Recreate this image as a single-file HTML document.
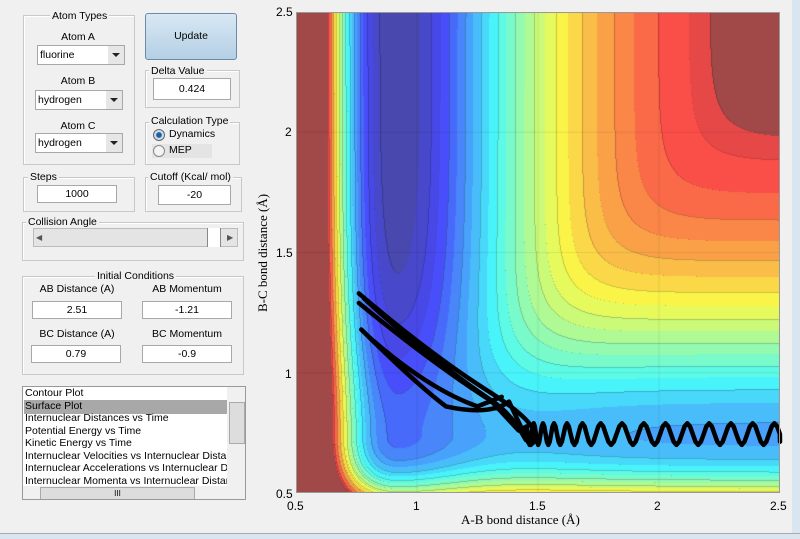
<!DOCTYPE html>
<html><head><meta charset="utf-8"><style>
body{margin:0;width:800px;height:539px;background:#f0f0f0;position:relative;overflow:hidden;font-family:"Liberation Sans",sans-serif;font-size:10.5px;color:#000}
.a{position:absolute}
.box{position:absolute;border:1px solid #c8c8c8;box-shadow:1px 1px 0 #fff inset}
.t{position:absolute;background:#f0f0f0;padding:0 2px;white-space:nowrap}
.inp{position:absolute;background:#fff;border:1px solid #a8a8a8;text-align:center;line-height:17px;box-sizing:border-box}
.sel{position:absolute;background:#fff;border:1px solid #a8a8a8;box-sizing:border-box;padding-left:2px;line-height:18px}
.sel:after{content:"";position:absolute;right:0;top:0;width:16px;height:100%;background:#e6e6e6}
.sel i{position:absolute;right:4px;top:7px;border-left:4px solid transparent;border-right:4px solid transparent;border-top:4px solid #222;z-index:2}
.lbl{position:absolute;text-align:center;white-space:nowrap}
</style></head><body>
<div class="a" style="right:0;top:0;width:8px;height:539px;background:#d9e6f2"></div>
<div class="a" style="left:0;bottom:0;width:800px;height:5px;background:#d9e6f2;border-top:1px solid #aaa"></div>

<div class="box" style="left:23px;top:15px;width:110px;height:148px"></div>
<div class="t" style="left:50px;top:10px">Atom Types</div>
<div class="lbl" style="left:23px;width:110px;top:31px">Atom A</div>
<div class="sel" style="left:37px;top:45px;width:88px;height:20px">fluorine<i></i></div>
<div class="lbl" style="left:23px;width:110px;top:75px">Atom B</div>
<div class="sel" style="left:35px;top:90px;width:88px;height:20px">hydrogen<i></i></div>
<div class="lbl" style="left:23px;width:110px;top:120px">Atom C</div>
<div class="sel" style="left:35px;top:133px;width:88px;height:20px">hydrogen<i></i></div>

<div class="a" style="left:145px;top:13px;width:90px;height:45px;border:1px solid #6e8aa8;border-radius:3px;background:linear-gradient(#d8e8f4,#b4cfe4);text-align:center;line-height:45px">Update</div>

<div class="box" style="left:145px;top:70px;width:93px;height:36px"></div>
<div class="t" style="left:149px;top:65px">Delta Value</div>
<div class="inp" style="left:153px;top:78px;width:78px;height:22px;line-height:20px">0.424</div>

<div class="box" style="left:145px;top:122px;width:93px;height:41px"></div>
<div class="t" style="left:149px;top:115px">Calculation Type</div>
<div class="a" style="left:153px;top:129px;width:10px;height:10px;border-radius:50%;border:1px solid #666;background:radial-gradient(#1d5fa0 35%,#cde 45%)"></div>
<div class="a" style="left:169px;top:128px">Dynamics</div>
<div class="a" style="left:152px;top:144px;width:60px;height:14px;background:#e4e4e4"></div>
<div class="a" style="left:153px;top:145px;width:10px;height:10px;border-radius:50%;border:1px solid #888;background:#f4f4f4"></div>
<div class="a" style="left:169px;top:144px">MEP</div>

<div class="box" style="left:23px;top:177px;width:110px;height:33px"></div>
<div class="t" style="left:28px;top:171px">Steps</div>
<div class="inp" style="left:37px;top:185px;width:80px;height:18px">1000</div>
<div class="box" style="left:145px;top:177px;width:95px;height:33px"></div>
<div class="t" style="left:148px;top:171px">Cutoff (Kcal/ mol)</div>
<div class="inp" style="left:158px;top:185px;width:73px;height:20px;line-height:18px">-20</div>

<div class="box" style="left:22px;top:222px;width:220px;height:37px"></div>
<div class="t" style="left:26px;top:216px">Collision Angle</div>
<div class="a" style="left:33px;top:228px;width:205px;height:19px;background:#e4e4e4;border:1px solid #bbb;box-sizing:border-box"></div>
<div class="a" style="left:36px;top:233px;font-size:8px;color:#555">◀</div>
<div class="a" style="left:207px;top:228px;width:14px;height:19px;background:#fff;border-left:1px solid #888;border-right:1px solid #888;box-sizing:border-box"></div>
<div class="a" style="left:227px;top:233px;font-size:8px;color:#555">▶</div>

<div class="box" style="left:22px;top:276px;width:220px;height:97px"></div>
<div class="t" style="left:95px;top:270px">Initial Conditions</div>
<div class="lbl" style="left:32px;width:90px;top:283px">AB Distance (A)</div>
<div class="lbl" style="left:142px;width:90px;top:283px">AB Momentum</div>
<div class="inp" style="left:32px;top:301px;width:90px;height:18px">2.51</div>
<div class="inp" style="left:142px;top:301px;width:90px;height:18px">-1.21</div>
<div class="lbl" style="left:32px;width:90px;top:328px">BC Distance (A)</div>
<div class="lbl" style="left:142px;width:90px;top:328px">BC Momentum</div>
<div class="inp" style="left:31px;top:345px;width:90px;height:18px">0.79</div>
<div class="inp" style="left:142px;top:345px;width:90px;height:18px">-0.9</div>

<div class="a" style="left:22px;top:386px;width:224px;height:114px;background:#fff;border:1px solid #999;box-sizing:border-box;overflow:hidden">
<div class="a" style="left:1px;top:13px;width:203px;height:14px;background:#a8a8a8"></div>
<div class="a" style="left:2px;top:0;line-height:12.5px;white-space:nowrap">Contour Plot<br>Surface Plot<br>Internuclear Distances vs Time<br>Potential Energy vs Time<br>Kinetic Energy vs Time<br>Internuclear Velocities vs Internuclear Distance<br>Internuclear Accelerations vs Internuclear Dista<br>Internuclear Momenta vs Internuclear Distance</div>
<div class="a" style="left:204px;top:0;width:19px;height:99px;background:#f0f0f0"></div>
<div class="a" style="left:206px;top:15px;width:14px;height:40px;background:#ddd;border:1px solid #aaa"></div>
<div class="a" style="left:0;top:99px;width:222px;height:14px;background:#f0f0f0"></div>
<div class="a" style="left:17px;top:100px;width:153px;height:11px;background:#ddd;border:1px solid #aaa;text-align:center;font-size:8px;line-height:11px">III</div>
</div>

<canvas id="c" width="484" height="481" class="a" style="left:296px;top:12px"></canvas>
<svg class="a" style="left:0;top:0" width="800" height="539" id="s"></svg>
<div class="a" style="left:296px;top:12px;width:484px;height:481px;border:1px solid #999;box-sizing:border-box;pointer-events:none"></div>
<div class="a" style="left:276px;top:5px;font-size:12px">2.5</div>
<div class="a" style="left:285px;top:125px;font-size:12px">2</div>
<div class="a" style="left:276px;top:246px;font-size:12px">1.5</div>
<div class="a" style="left:285px;top:367px;font-size:12px">1</div>
<div class="a" style="left:276px;top:487px;font-size:12px">0.5</div>
<div class="a" style="left:287px;top:499px;font-size:12px">0.5</div>
<div class="a" style="left:413px;top:499px;font-size:12px">1</div>
<div class="a" style="left:529px;top:499px;font-size:12px">1.5</div>
<div class="a" style="left:654px;top:499px;font-size:12px">2</div>
<div class="a" style="left:770px;top:499px;font-size:12px">2.5</div>
<div class="a" style="left:461px;top:512px;font-family:'Liberation Serif',serif;font-size:13px">A-B bond distance (Å)</div>
<div class="a" style="left:203px;top:245px;width:120px;transform:rotate(-90deg);transform-origin:center;font-family:'Liberation Serif',serif;font-size:13px;white-space:nowrap;text-align:center">B-C bond distance (Å)</div>

<script>
var c=document.getElementById('c'),g=c.getContext('2d'),W=484,H=481;
function jet(t){function f(v){return Math.max(0,Math.min(1,v))}
return [f(1.5-Math.abs(4*t-3)),f(1.5-Math.abs(4*t-2)),f(1.5-Math.abs(4*t-1))]}
function morse(r,ar,aa){if(r<0){var e=Math.exp(-ar*r);return [1,(1-e)*(1-e)];}var e=Math.exp(-aa*r);return [1-(1-e)*(1-e),0];}
var D2=0.74;
function V(x,y){var m1=morse(x-0.92,2.3,2.35),m2=morse(y-0.74,2.3,2.2);
var a=m1[0],b=D2*m2[0];var p=Math.pow(Math.pow(a,4)+Math.pow(b,4),0.25);
return -p+m1[1]+0.7*m2[1]+0.45*Math.pow(a*b,2);}
var N=26,img=g.createImageData(W,H),L=[];
for(var j=0;j<H;j++){L[j]=[];for(var i=0;i<W;i++){var x=0.5+i/242,y=0.5+(H-1-j)/240.5;var t=1+V(x,y);if(t<0)t=0;var q=Math.min(N,Math.floor(t*N));if(t>0.905)q=N;L[j][i]=q;}}
for(var j=0;j<H;j++)for(var i=0;i<W;i++){var q=L[j][i],t=q>=N?1:(q+0.5)/N,col=jet(t);
var edge=(i>0&&L[j][i-1]!=q)||(j>0&&L[j-1][i]!=q);var a=0.7;
var k=(j*W+i)*4;for(var m=0;m<3;m++){var v=col[m]*255*a+240*(1-a);if(edge&&q%2==0)v*=0.8;img.data[k+m]=v;}img.data[k+3]=255;}
g.putImageData(img,0,0);
g.strokeStyle='rgba(0,0,0,0.08)';g.lineWidth=1;
[0.5,1,1.5,2,2.5].forEach(function(v){var X=(v-0.5)*242,Y=H-(v-0.5)*240.5;g.beginPath();g.moveTo(X,0);g.lineTo(X,H);g.stroke();g.beginPath();g.moveTo(0,Y);g.lineTo(W,Y);g.stroke();});
function px(x){return 296+(x-0.5)*242}function py(y){return 493-(y-0.5)*240.5}
var d='';
function P(a,b){return px(a).toFixed(1)+','+py(b).toFixed(1)}
d+='M'+P(0.76,1.33)+' Q'+P(1.05,1.08)+' '+P(1.3,0.92)+' T'+P(1.47,0.70)+' ';
d+='M'+P(0.76,1.29)+' Q'+P(1.05,1.05)+' '+P(1.28,0.90)+' Q'+P(1.38,0.85)+' '+P(1.45,0.72)+' ';
d+='M'+P(0.77,1.18)+' Q'+P(1.0,0.95)+' '+P(1.12,0.86)+' Q'+P(1.3,0.82)+' '+P(1.38,0.88)+' L'+P(1.46,0.71)+' ';
d+='M'+P(0.78,1.31)+' Q'+P(1.05,1.06)+' '+P(1.3,0.89)+' L'+P(1.42,0.76)+' ';
d+='M'+P(0.8,1.15)+' Q'+P(1.05,0.93)+' '+P(1.25,0.86)+' L'+P(1.35,0.9)+' ';
var x=1.45,ph=0;d+='M'+P(1.42,0.76);
while(x<2.5){var w=0.03+0.06*Math.min(1,(x-1.45)/0.35);x+=w/8;ph+=Math.PI/4;var yy=0.745+0.045*Math.cos(ph);d+=' L'+P(Math.min(x,2.5),yy);}
document.getElementById('s').innerHTML='<path d="'+d+'" fill="none" stroke="#000" stroke-width="4.5" stroke-linejoin="round" stroke-linecap="round"/>';
</script>
</body></html>
